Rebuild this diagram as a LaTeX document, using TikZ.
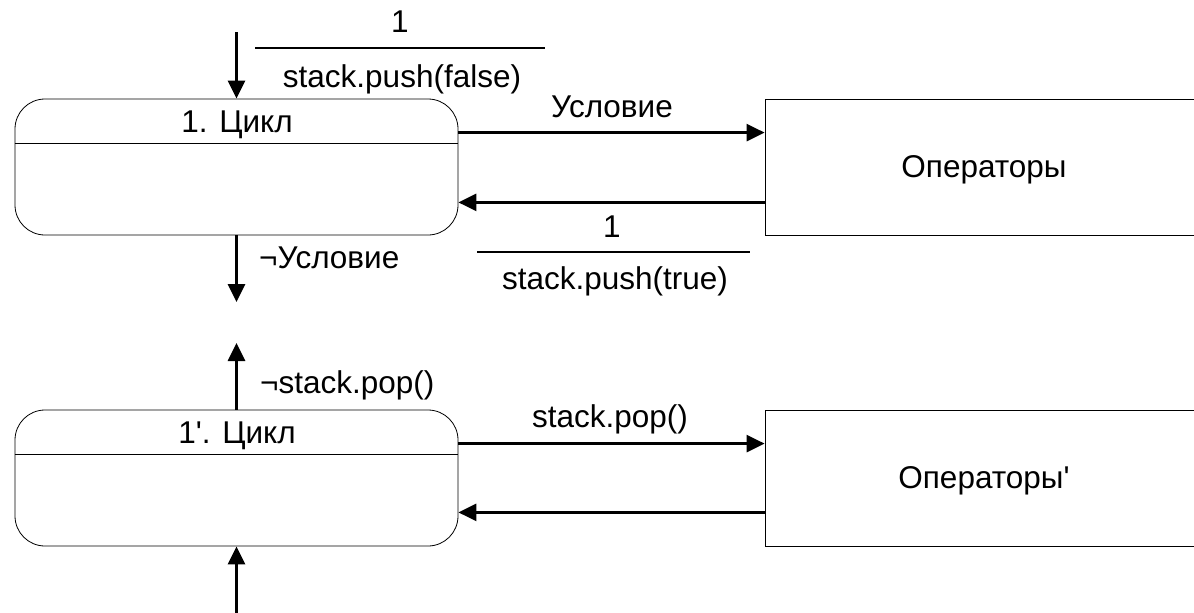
\documentclass[tikz,border=0pt]{standalone}
\usepackage{fontspec}
\setmainfont{Liberation Sans}
\usetikzlibrary{arrows.meta,positioning,calc}

\begin{document}
\begin{tikzpicture}[x=1pt,y=-1pt,
  state/.style={draw,rounded corners=30pt,minimum width=443pt,minimum height=136pt,inner sep=0pt,line width=0.8pt},
  ops/.style={draw,minimum width=431pt,minimum height=136pt,inner sep=0pt,line width=0.8pt},
  flow/.style={-{Triangle[length=18pt,width=17pt]},line width=2.7pt},
  bar/.style={line width=2.7pt},
  txt/.style={font=\fontsize{31.5}{38}\selectfont,inner sep=0pt,anchor=base}]
  \useasboundingbox (0,0) rectangle (1194,613);
  \clip (0,0) rectangle (1194,613);

  % upper loop
  \node[state] (st1) at (236.5,167) {};
  \node[txt] (t1) at (237,132) {1. Цикл};
  \draw[line width=0.8pt] ([yshift=-45pt]st1.north west) -- ([yshift=-45pt]st1.north east);
  \node[ops] (ops1) at (980.5,167) {};
  \node[txt] (o1) at (984,177) {Операторы};

  \coordinate (in1) at (236.5,32);
  \draw[flow] (in1) -- (st1.north);
  \node[txt] (g1) at (400,32) {1};
  \draw[bar] (255,48) -- (545,48);
  \node[txt] (a1) at (402,87) {stack.push(false)};

  \draw[flow] ([yshift=-34pt]st1.north east) -- ([yshift=-34pt]ops1.north west);
  \node[txt] (c1) at (612,117) {Условие};
  \draw[flow] ([yshift=33pt]ops1.south west) -- ([yshift=33pt]st1.south east);
  \node[txt] (g2) at (612,237) {1};
  \draw[bar] (477,252) -- (750,252);
  \node[txt] (a2) at (615,289) {stack.push(true)};

  \coordinate (out1) at (236.5,302);
  \draw[flow] (st1.south) -- (out1);
  \node[txt,anchor=base west] (nc1) at (259,268) {¬Условие};

  % lower loop
  \node[state] (st2) at (236.5,478) {};
  \node[txt] (t2) at (237,443) {1\textquotesingle. Цикл};
  \draw[line width=0.8pt] ([yshift=-45pt]st2.north west) -- ([yshift=-45pt]st2.north east);
  \node[ops] (ops2) at (980.5,478) {};
  \node[txt] (o2) at (984,488) {Операторы\textquotesingle};

  \coordinate (out2) at (236.5,343);
  \draw[flow] (st2.north) -- (out2);
  \node[txt,anchor=base west] (np2) at (260,393) {¬stack.pop()};

  \draw[flow] ([yshift=-34pt]st2.north east) -- ([yshift=-34pt]ops2.north west);
  \node[txt] (c2) at (610,427) {stack.pop()};
  \draw[flow] ([yshift=34pt]ops2.south west) -- ([yshift=34pt]st2.south east);

  \coordinate (in2) at (236.5,613);
  \draw[flow] (in2) -- (st2.south);
\end{tikzpicture}
\end{document}
